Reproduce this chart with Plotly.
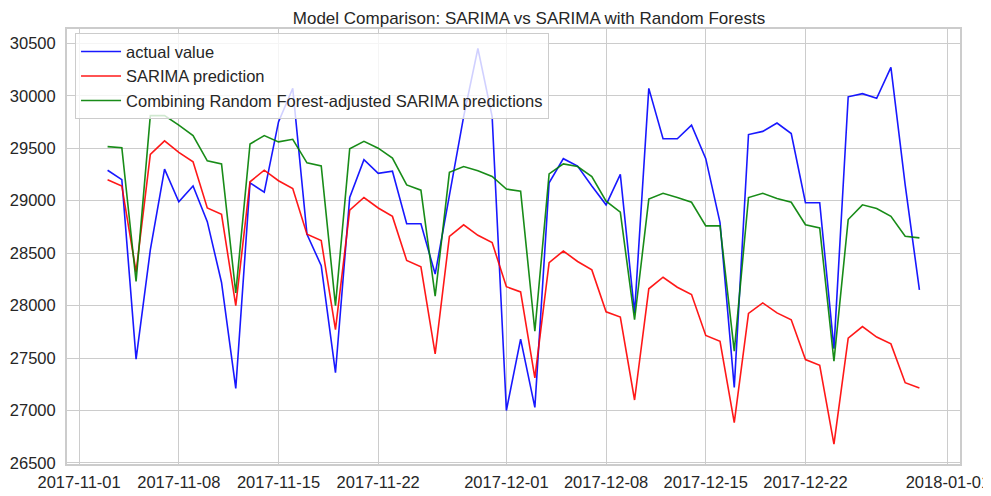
import pandas as pd
import plotly.graph_objects as go

dates = pd.date_range("2017-11-03", "2017-12-30", freq="D")

actual_value = [29290, 29200, 27490, 28530, 29300, 28990, 29140, 28800, 28220, 27210,
                29170, 29080, 29750, 30070, 28680, 28380, 27360, 29030, 29390, 29260,
                29280, 28780, 28780, 28300, 29050, 29800, 30450, 29800, 27000, 27680,
                27030, 29170, 29400, 29330, 29140, 28960, 29250, 27930, 30070, 29590,
                29590, 29720, 29400, 28790, 27220, 29630, 29660, 29740, 29640, 28980,
                28980, 27590, 29990, 30020, 29975, 30270, 29150, 28150]

sarima_pred = [29200, 29140, 28320, 29440, 29570, 29460, 29370, 28930, 28870, 28000,
               29180, 29290, 29190, 29115, 28680, 28620, 27770, 28910, 29030, 28930,
               28850, 28430, 28370, 27540, 28660, 28770, 28670, 28600, 28180, 28130,
               27310, 28410, 28520, 28420, 28340, 27940, 27890, 27100, 28160, 28270,
               28175, 28105, 27715, 27660, 26885, 27925, 28025, 27930, 27865, 27485,
               27430, 26680, 27690, 27800, 27700, 27635, 27265, 27215]

combined_pred = [29515, 29505, 28230, 29810, 29810, 29720, 29620, 29380, 29350, 28120,
                 29540, 29620, 29560, 29585, 29360, 29330, 28000, 29495, 29565, 29500,
                 29405, 29150, 29100, 28090, 29270, 29325, 29285, 29230, 29110, 29090,
                 27755, 29255, 29350, 29325, 29230, 28995, 28890, 27865, 29015, 29070,
                 29030, 28985, 28760, 28760, 27565, 29030, 29070, 29020, 28985, 28770,
                 28740, 27470, 28820, 28960, 28925, 28850, 28660, 28645]

x_tick_vals = ["2017-11-01", "2017-11-08", "2017-11-15", "2017-11-22", "2017-12-01",
               "2017-12-08", "2017-12-15", "2017-12-22", "2018-01-01"]
y_tick_vals = [26500, 27000, 27500, 28000, 28500, 29000, 29500, 30000, 30500]

font_family = "Liberation Sans, Arial, sans-serif"
text_color = "#262626"
grid_color = "#cccccc"

fig = go.Figure()
fig.add_trace(go.Scatter(x=dates, y=actual_value, mode="lines", name="actual value",
                         line=dict(color="#0000ff", width=1.6), opacity=0.9))
fig.add_trace(go.Scatter(x=dates, y=sarima_pred, mode="lines", name="SARIMA prediction",
                         line=dict(color="#ff0000", width=1.6), opacity=0.9))
fig.add_trace(go.Scatter(x=dates, y=combined_pred, mode="lines",
                         name="Combining Random Forest-adjusted SARIMA predictions",
                         line=dict(color="#008000", width=1.6), opacity=0.9))

# The page body adds an 8px offset; the figure is sized/margined to compensate.
fig.update_layout(
    width=983, height=488,
    margin=dict(l=59, r=31, t=21, b=32, autoexpand=False),
    paper_bgcolor="white", plot_bgcolor="white",
    font=dict(family=font_family, size=16.5, color=text_color),
    title=dict(text="Model Comparison: SARIMA vs SARIMA with Random Forests",
               x=0.53, xanchor="center", y=1.0, yanchor="top",
               pad=dict(t=4, b=0),
               font=dict(size=17, color=text_color)),
    showlegend=True,
    legend=dict(x=0.009, y=0.99, xanchor="left", yanchor="top",
                bgcolor="rgba(255,255,255,0.8)", bordercolor=grid_color, borderwidth=1,
                font=dict(size=16.5, color=text_color), tracegroupgap=0,
                itemwidth=40),
)
fig.update_xaxes(
    type="date", automargin=False,
    range=["2017-10-31 03:36", "2018-01-01 20:24"],
    tickvals=x_tick_vals, tickformat="%Y-%m-%d",
    showgrid=True, gridcolor=grid_color, gridwidth=1,
    showline=True, linecolor=grid_color, linewidth=2, mirror=True,
    ticks="", zeroline=False, ticklabelstandoff=2,
)
fig.update_yaxes(
    automargin=False,
    range=[26490, 30636],
    tickvals=y_tick_vals, tickformat="d",
    showgrid=True, gridcolor=grid_color, gridwidth=1,
    showline=True, linecolor=grid_color, linewidth=2, mirror=True,
    ticks="", zeroline=False, ticklabelstandoff=6,
)

fig.write_html("out.html")
